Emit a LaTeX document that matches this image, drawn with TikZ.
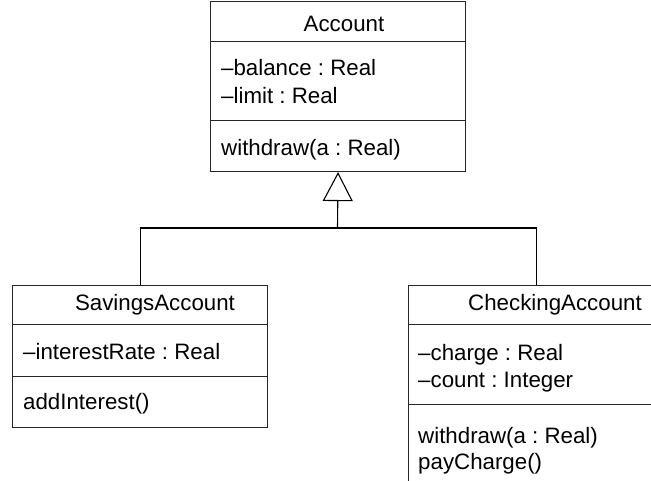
\documentclass[tikz,border=0pt]{standalone}
\usepackage{fontspec}
\setmainfont{Liberation Sans}
\usetikzlibrary{arrows.meta}
\frenchspacing
\begin{document}
\begin{tikzpicture}[x=1pt,y=-1pt,
 comp/.style={draw=black!85, line width=1.1pt, anchor=north west, inner sep=0pt, minimum width=255pt},
 txt/.style={anchor=base west, inner sep=0pt, font=\fontsize{22.3}{26}\selectfont},
 ttl/.style={anchor=base, inner sep=0pt, font=\fontsize{22.3}{26}\selectfont},
 conn/.style={draw=black, line width=1.1pt}]
\useasboundingbox (0,0) rectangle (651,481);
\clip (0,0) rectangle (651,481);
% Account
\node[comp, minimum height=40pt] (acctT) at (210,1) {};
\node[comp, minimum height=79pt] (acctA) at (210,41) {};
\node[comp, minimum height=51pt] (acctO) at (210,120) {};
\node[ttl] (acctN) at (344,32) {Account};
\node[txt] (a1) at (221,76) {–balance : Real};
\node[txt] (a2) at (221,104) {–limit : Real};
\node[txt] (a3) at (221,156) {withdraw(a : Real)};
% SavingsAccount
\node[comp, minimum height=39pt] (savT) at (12,285) {};
\node[comp, minimum height=52pt] (savA) at (12,324) {};
\node[comp, minimum height=51pt] (savO) at (12,376) {};
\node[ttl] (savN) at (155,311) {SavingsAccount};
\node[txt] (s1) at (23,359) {–interestRate : Real};
\node[txt] (s2) at (23,409) {addInterest()};
% CheckingAccount
\node[comp, minimum height=39pt] (chkT) at (408,285) {};
\node[comp, minimum height=80pt] (chkA) at (408,324) {};
\node[comp, minimum height=81pt] (chkO) at (408,404) {};
\node[ttl] (chkN) at (555,311) {CheckingAccount};
\node[txt] (c1) at (418,360) {–charge : Real};
\node[txt] (c2) at (418,387) {–count : Integer};
\node[txt] (c3) at (418,443) {withdraw(a : Real)};
\node[txt] (c4) at (418,469) {payCharge()};
% generalization
\coordinate (apex) at (acctO.south);
\coordinate (jn) at (337.5,228);
\draw[conn, -{Triangle[open, length=29pt, width=30pt]}] (jn) -- (apex);
\draw[conn] (savT.north) |- (jn) -| (chkT.north);
\end{tikzpicture}
\end{document}
